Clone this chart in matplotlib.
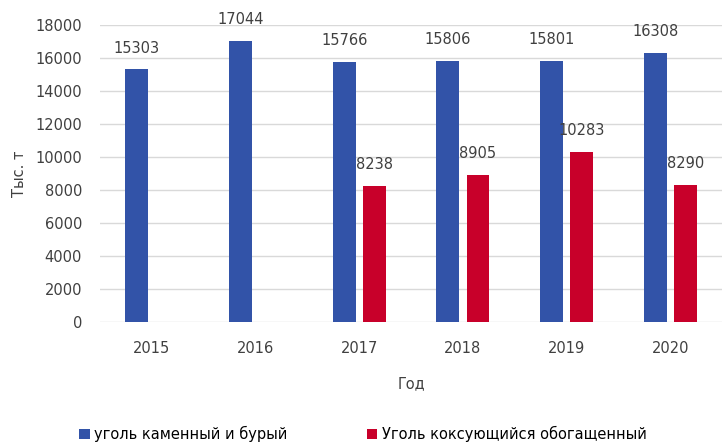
import matplotlib.pyplot as plt
import numpy as np

years = ['2015', '2016', '2017', '2018', '2019', '2020']
coal = [15303, 17044, 15766, 15806, 15801, 16308]
coking = [None, None, 8238, 8905, 10283, 8290]
coal_name = 'уголь каменный и бурый'
coking_name = 'Уголь коксующийся обогащенный'

plt.rcParams['font.family'] = ['DejaVu Sans']

fig = plt.figure(figsize=(7.26, 4.44), dpi=100)
ax = fig.add_axes([0.1377, 0.2748, 0.857, 0.669])

x = np.arange(len(years))
w = 0.22
off = 0.145

blue = '#3253A8'
red = '#C8002A'
txt = '#404040'

b1 = ax.bar(x - off, coal, w, color=blue, label=coal_name, zorder=2)
idx = [i for i, v in enumerate(coking) if v is not None]
vals = [coking[i] for i in idx]
b2 = ax.bar(x[idx] + off, vals, w, color=red, label=coking_name, zorder=2)

# подписи значений
for xi, v in zip(x - off, coal):
    ax.annotate(str(v), (xi, v), xytext=(0, 10), textcoords='offset points',
                ha='center', va='bottom', fontsize=10.5, color=txt)
for xi, v in zip(x[idx] + off, vals):
    ax.annotate(str(v), (xi, v), xytext=(0, 10), textcoords='offset points',
                ha='center', va='bottom', fontsize=10.5, color=txt)

ax.set_ylim(0, 18000)
ax.set_yticks(range(0, 18001, 2000))
ax.set_xlim(-0.5, 5.5)
ax.set_xticks(x)
ax.set_xticklabels(years)
ax.grid(axis='y', color='#D9D9D9', linewidth=1, zorder=0)
for s in ax.spines.values():
    s.set_visible(False)
ax.tick_params(length=0, labelsize=10.5, colors=txt)
ax.tick_params(axis='x', pad=14)
ax.tick_params(axis='y', pad=13)

ax.set_ylabel('Тыс. т', fontsize=10.5, color=txt, labelpad=6)
ax.set_xlabel('Год', fontsize=10.5, color=txt, labelpad=14)

fig.legend(handles=[b1, b2], loc='center', bbox_to_anchor=(0.5, 1 - 434 / 444),
           ncol=2, frameon=False, fontsize=10.5, handlelength=0.7, handleheight=0.7,
           handletextpad=0.34, columnspacing=5.4)

fig.savefig('out.png', dpi=100)
